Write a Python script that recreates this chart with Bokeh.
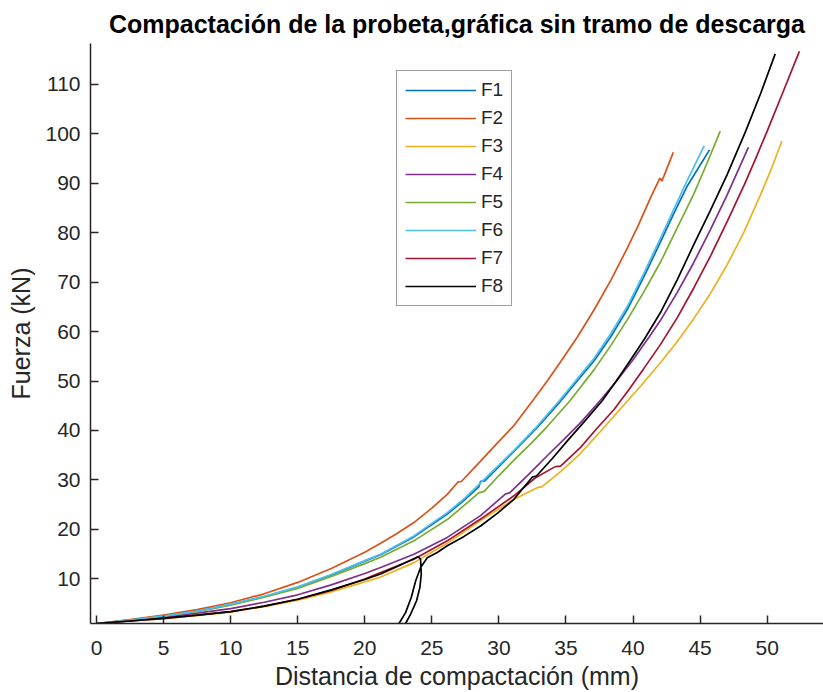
from bokeh.plotting import figure
from bokeh.models import Range1d, FixedTicker, Legend, LegendItem
from bokeh.embed import file_html
from bokeh.resources import INLINE

# ---------------- data ----------------
series_names = ["F1", "F2", "F3", "F4", "F5", "F6", "F7", "F8"]
series_colors = ["#0072BD", "#D95319", "#EDB120", "#7E2F8E",
                 "#77AC30", "#4DBEEE", "#A2142F", "#000000"]

f1_x = [0, 2.5, 5, 7.5, 10, 12.5, 15, 17.5, 20, 21.18, 23.66, 26.15, 27.4, 28.5, 28.63, 28.95,
        30.0, 31.12, 32.86, 34.5, 35.8, 37.1, 38.35, 39.6, 40.85, 42.1, 43.0, 44.0, 45.7]
f1_y = [1.0, 1.7, 2.5, 3.5, 4.8, 6.4, 8.3, 10.8, 13.6, 14.9, 18.5, 23.1, 25.9, 28.6, 29.7, 29.8,
        32.7, 35.8, 40.6, 45.6, 49.9, 54.1, 59.0, 64.6, 71.3, 78.4, 83.6, 89.2, 96.7]

f2_x = [0, 2.5, 5, 7.5, 10, 12.5, 15, 17.5, 20, 21.18, 22.4, 23.66, 25.0, 26.15, 26.95, 27.2,
        28.63, 30.0, 31.12, 32.6, 33.6, 34.6, 35.85, 37.1, 38.35, 39.6, 40.45, 41.3, 42.0, 42.15,
        42.3, 43.0]
f2_y = [1.0, 1.8, 2.7, 3.8, 5.2, 7.0, 9.3, 12.1, 15.4, 17.2, 19.2, 21.4, 24.3, 27.1, 29.6, 29.7,
        33.8, 37.8, 41.0, 46.3, 50.0, 53.9, 58.9, 64.4, 70.4, 77.0, 81.8, 87.0, 91.0, 90.4,
        91.4, 96.2]

f3_x = [0, 2.5, 5, 7.5, 10, 12.5, 15, 17.5, 20, 21.18, 23.66, 26.15, 28.63, 31.12, 32.9, 33.2,
        34.6, 36.09, 37.6, 39.07, 40.6, 42.1, 43.3, 44.5, 45.75, 47.0, 48.25, 49.5, 50.3, 51.1]
f3_y = [1.0, 1.5, 2.0, 2.6, 3.3, 4.4, 5.7, 7.4, 9.4, 10.4, 13.3, 17.2, 21.8, 26.1, 28.5, 28.6,
        31.7, 35.4, 39.9, 44.4, 49.1, 53.9, 58.0, 62.5, 67.6, 73.4, 80.0, 87.6, 92.8, 98.5]

f4_x = [0, 2.5, 5, 7.5, 10, 12.5, 15, 17.5, 20, 21.18, 23.66, 26.15, 28.63, 30.5, 30.8, 32.2,
        33.6, 34.85, 36.09, 37.5, 38.8, 40.0, 41.2, 42.1, 43.3, 44.5, 45.75, 47.0, 48.6]
f4_y = [1.0, 1.6, 2.3, 3.1, 4.0, 5.3, 6.8, 8.8, 11.1, 12.3, 15.0, 18.4, 22.8, 27.2, 27.4, 31.1,
        34.9, 38.2, 41.6, 45.9, 50.1, 54.3, 58.9, 62.5, 67.9, 73.8, 80.5, 87.5, 97.2]

f5_x = [0, 2.5, 5, 7.5, 10, 12.5, 15, 17.5, 20, 21.18, 23.66, 26.15, 27.3, 28.5, 28.9, 30.0,
        31.12, 32.4, 33.6, 35.3, 37.1, 38.35, 39.6, 40.85, 42.1, 43.3, 44.5, 45.5, 46.5]
f5_y = [1.0, 1.7, 2.5, 3.4, 4.7, 6.3, 8.1, 10.5, 13.1, 14.4, 17.7, 22.0, 24.6, 27.4, 27.7, 30.9,
        34.0, 37.4, 40.8, 46.0, 52.3, 57.2, 62.5, 68.2, 74.3, 81.0, 87.6, 93.9, 100.5]

f6_x = [0, 2.5, 5, 7.5, 10, 12.5, 15, 17.5, 20, 21.18, 23.66, 26.15, 27.4, 28.63, 30.0, 31.12,
        32.86, 34.5, 35.8, 37.1, 38.35, 39.6, 40.85, 42.1, 43.0, 44.0, 45.3]
f6_y = [1.0, 1.7, 2.5, 3.5, 4.9, 6.5, 8.4, 10.9, 13.7, 15.0, 18.7, 23.4, 26.2, 29.4, 33.0, 36.0,
        40.9, 46.0, 50.3, 54.6, 59.6, 65.2, 72.0, 79.2, 84.5, 90.3, 97.5]

f7_x = [0, 2.5, 5, 7.5, 10, 12.5, 15, 17.5, 20, 21.18, 23.66, 26.15, 28.63, 31.12, 32.7, 34.2,
        34.6, 36.09, 37.3, 38.57, 39.7, 40.8, 42.05, 43.3, 44.55, 45.8, 47.05, 48.3, 49.15, 50.0,
        51.2, 52.4]
f7_y = [1.0, 1.5, 2.0, 2.7, 3.4, 4.5, 5.9, 7.7, 10.0, 11.3, 14.0, 17.7, 22.1, 26.8, 30.4, 32.7,
        32.8, 36.6, 40.4, 44.2, 48.3, 52.5, 57.4, 62.8, 68.9, 75.4, 82.4, 89.7, 95.0, 100.5,
        108.5, 116.6]

f8_x = [0, 2.5, 5, 7.5, 10, 12.5, 15, 17.5, 20, 21.18, 22.5, 23.96, 24.16, 24.21, 24.11, 23.86,
        23.42, 23.04, 22.9, 22.45, 22.55, 23.04, 23.47, 23.79, 24.16, 24.66, 25.4, 26.15, 27.4,
        28.63, 29.9, 31.12, 32.5, 32.8, 34.0, 35.1, 36.4, 37.7, 38.7, 39.6, 40.85, 42.1, 43.3,
        44.5, 45.75, 47.0, 48.4, 49.5, 50.6]
f8_y = [1.0, 1.5, 2.1, 2.7, 3.4, 4.5, 5.9, 7.8, 9.9, 11.0, 12.6, 14.5, 14.0, 11.0, 8.3, 5.6,
        2.9, 1.0, 0.0, 0.0, 1.0, 3.2, 6.3, 9.6, 12.3, 14.3, 15.35, 16.7, 18.6,
        20.7, 23.3, 26.1, 30.6, 30.8, 34.4, 37.9, 41.9, 46.0, 49.8, 53.4, 58.5, 64.1, 70.5,
        77.4, 84.4, 91.6, 100.5, 108.0, 116.1]

series_x = [f1_x, f2_x, f3_x, f4_x, f5_x, f6_x, f7_x, f8_x]
series_y = [f1_y, f2_y, f3_y, f4_y, f5_y, f6_y, f7_y, f8_y]

x_ticks = [0, 5, 10, 15, 20, 25, 30, 35, 40, 45, 50]
y_ticks = [10, 20, 30, 40, 50, 60, 70, 80, 90, 100, 110]

title_text = "Compactación de la probeta,gráfica sin tramo de descarga"
x_label = "Distancia de compactación (mm)"
y_label = "Fuerza (kN)"

# ---------------- figure ----------------
TEXT = "#262626"
FONT = "Liberation Sans"

p = figure(width=823, height=692, output_backend="svg", toolbar_location=None,
           x_range=Range1d(-0.45, 54.2), y_range=Range1d(1.0, 118.2),
           min_border_left=90, min_border_right=0, min_border_top=43,
           min_border_bottom=69, title=title_text)
p.outline_line_color = None
p.grid.visible = False
p.background_fill_color = "white"
p.border_fill_color = "white"

p.title.align = "center"
p.title.text_font = FONT
p.title.text_font_size = "25px"
p.title.text_font_style = "bold"
p.title.text_color = "black"
p.title.standoff = 12

for ax in (p.xaxis[0], p.yaxis[0]):
    ax.axis_line_color = TEXT
    ax.axis_line_width = 1.5
    ax.major_tick_line_color = TEXT
    ax.major_tick_line_width = 1.5
    ax.major_tick_in = 8
    ax.major_tick_out = 0
    ax.minor_tick_in = 0
    ax.minor_tick_out = 0
    ax.major_label_text_font = FONT
    ax.major_label_text_font_size = "21px"
    ax.major_label_text_color = TEXT
    ax.major_label_text_line_height = 1.0
    ax.axis_label_text_font = FONT
    ax.axis_label_text_font_size = "25px"
    ax.axis_label_text_font_style = "normal"
    ax.axis_label_text_color = TEXT
    ax.axis_label_text_line_height = 1.0

p.xaxis.ticker = FixedTicker(ticks=x_ticks)
p.yaxis.ticker = FixedTicker(ticks=y_ticks)
p.xaxis.major_label_standoff = 17
p.yaxis.major_label_standoff = 10
p.xaxis.axis_label = x_label
p.yaxis.axis_label = y_label
p.xaxis.axis_label_standoff = 4
p.yaxis.axis_label_standoff = 7

renderers = []
for xs, ys, c in zip(series_x, series_y, series_colors):
    renderers.append(p.line(xs, ys, line_color=c, line_width=1.7))

legend = Legend(items=[LegendItem(label=n, renderers=[r]) for n, r in zip(series_names, renderers)],
                location=(306, 317), padding=8, spacing=6, margin=0,
                glyph_width=71, glyph_height=20, label_height=20, label_standoff=5,
                label_text_font=FONT, label_text_font_size="19px", label_text_color=TEXT,
                border_line_color="#404040", border_line_width=1,
                background_fill_color="white", background_fill_alpha=1.0)
p.add_layout(legend)

open("out.html", "w").write(file_html(p, INLINE))
